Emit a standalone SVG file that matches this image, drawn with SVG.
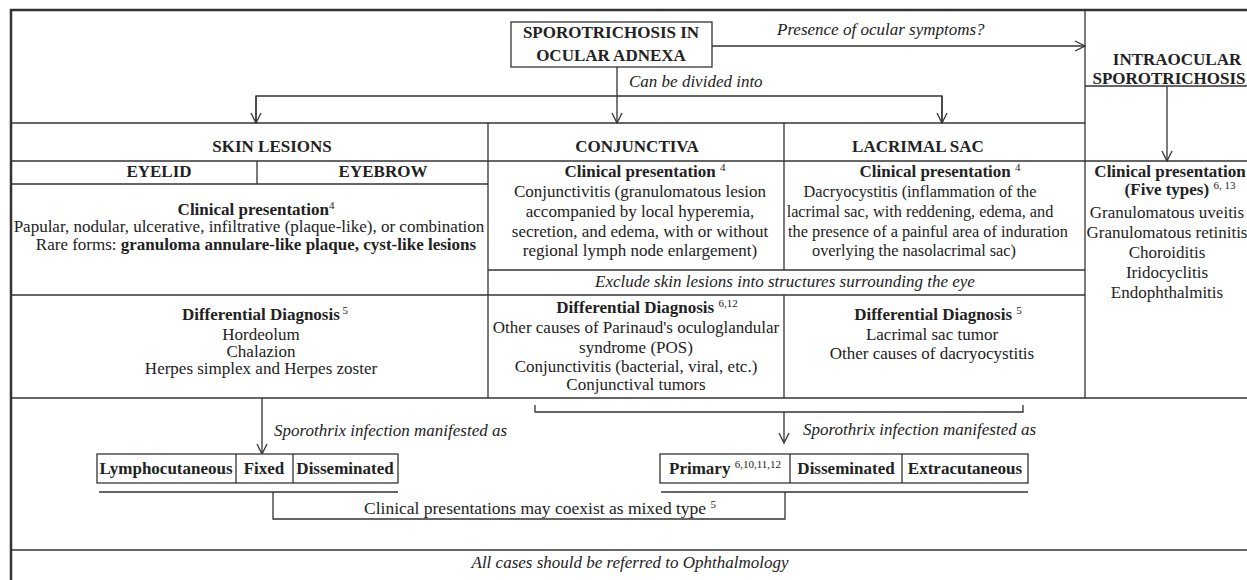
<svg xmlns="http://www.w3.org/2000/svg" width="1247" height="580" viewBox="0 0 1247 580">
<style>
text{font-family:"Liberation Serif","Times New Roman",serif;font-size:17px;fill:#222}
.b{font-weight:bold}
.i{font-style:italic}
.m{text-anchor:middle}
.sm{font-size:16.3px}
.sup{font-size:11px;font-weight:normal}
.ln{stroke:#333;stroke-width:1.3;fill:none}
.box{stroke:#333;stroke-width:1.3;fill:#fff}
.outer{stroke:#333;stroke-width:2.5;fill:#fff}
.arr{stroke:#333;stroke-width:1.3;fill:none;marker-end:url(#ah)}
</style>
<defs>
<marker id="ah" markerUnits="userSpaceOnUse" markerWidth="12" markerHeight="12" viewBox="-1 -6 12 12" refX="10" refY="0" orient="auto">
<path d="M0,-5 L10,0 L0,5" fill="none" stroke="#333" stroke-width="1.3"/>
</marker>
</defs>
<rect class="outer" x="11" y="10" width="1239" height="572"/>

<g id="grid">
<line class="ln" x1="11" y1="123" x2="1085" y2="123"/>
<line class="ln" x1="11" y1="161" x2="1250" y2="161"/>
<line class="ln" x1="11" y1="184" x2="488" y2="184"/>
<line class="ln" x1="257" y1="161" x2="257" y2="184"/>
<line class="ln" x1="488" y1="270" x2="1085" y2="270"/>
<line class="ln" x1="11" y1="295" x2="1085" y2="295"/>
<line class="ln" x1="11" y1="398" x2="1250" y2="398"/>
<line class="ln" x1="488" y1="123" x2="488" y2="398"/>
<line class="ln" x1="784" y1="123" x2="784" y2="270"/>
<line class="ln" x1="784" y1="295" x2="784" y2="398"/>
<line class="ln" x1="1085" y1="10" x2="1085" y2="398"/>
<line class="ln" x1="1085" y1="86" x2="1250" y2="86"/>
<line class="ln" x1="11" y1="550" x2="1250" y2="550"/>
</g>

<g id="connectors">
<line class="arr" x1="712" y1="46" x2="1085" y2="46"/>
<line class="arr" x1="617" y1="67" x2="617" y2="123"/>
<polyline class="ln" points="256,123 256,96 942,96 942,123"/>
<line class="arr" x1="256" y1="96" x2="256" y2="123"/>
<line class="arr" x1="942" y1="96" x2="942" y2="123"/>
<line class="arr" x1="1167" y1="86" x2="1167" y2="161"/>
<line class="arr" x1="262" y1="398" x2="262" y2="454"/>
<polyline class="ln" points="535,405 535,412 1023,412 1023,405"/>
<line class="arr" x1="784" y1="412" x2="784" y2="443"/>
<line class="ln" x1="99" y1="492" x2="398" y2="492"/>
<line class="ln" x1="661" y1="492" x2="1028" y2="492"/>
<polyline class="ln" points="273,492 273,519 785,519 785,492"/>
<text class="i" x="777" y="35">Presence of ocular symptoms?</text>
<text class="i" x="629" y="87">Can be divided into</text>
<text class="i" x="274" y="436">Sporothrix infection manifested as</text>
<text class="i" x="803" y="435">Sporothrix infection manifested as</text>
<text x="364" y="514" style="font-size:17.5px">Clinical presentations may coexist as mixed type <tspan class="sup" dy="-6">5</tspan></text>
</g>

<g id="root">
<rect class="box" x="511" y="22" width="201" height="45"/>
<text class="b m" x="611" y="38">SPOROTRICHOSIS IN</text>
<text class="b m" x="611" y="61">OCULAR ADNEXA</text>
</g>

<g id="intraocular">
<text class="b m" x="1177" y="65">INTRAOCULAR</text>
<text class="b m" x="1169" y="84">SPOROTRICHOSIS</text>
<text class="b m" x="1170" y="177">Clinical presentation</text>
<text class="b m" x="1180" y="195">(Five types) <tspan class="sup" dy="-6">6, 13</tspan></text>
<text class="m" x="1167" y="218">Granulomatous uveitis</text>
<text class="m" x="1167" y="238">Granulomatous retinitis</text>
<text class="m" x="1167" y="258">Choroiditis</text>
<text class="m" x="1167" y="278">Iridocyclitis</text>
<text class="m" x="1167" y="298">Endophthalmitis</text>
</g>

<g id="skin">
<text class="b m" x="272" y="152">SKIN LESIONS</text>
<text class="b m" x="159" y="177">EYELID</text>
<text class="b m" x="383" y="177">EYEBROW</text>
<text class="b m" x="256" y="215">Clinical presentation<tspan class="sup" dy="-6">4</tspan></text>
<text class="m" x="249" y="232">Papular, nodular, ulcerative, infiltrative (plaque-like), or combination</text>
<text class="m" x="256" y="250">Rare forms: <tspan class="b">granuloma annulare-like plaque, cyst-like lesions</tspan></text>
</g>

<g id="skin-dd">
<text class="b m" x="265" y="320">Differential Diagnosis<tspan class="sup" dy="-6"> 5</tspan></text>
<text class="m" x="261" y="340">Hordeolum</text>
<text class="m" x="261" y="357">Chalazion</text>
<text class="m" x="261" y="374">Herpes simplex and Herpes zoster</text>
</g>

<g id="conjunctiva">
<text class="b m" x="637" y="152">CONJUNCTIVA</text>
<text class="b m" x="645" y="177">Clinical presentation <tspan class="sup" dy="-6">4</tspan></text>
<text class="m" x="640" y="197">Conjunctivitis (granulomatous lesion</text>
<text class="m" x="640" y="217">accompanied by local hyperemia,</text>
<text class="m" x="640" y="237">secretion, and edema, with or without</text>
<text class="m" x="640" y="256">regional lymph node enlargement)</text>
</g>

<g id="exclude">
<text class="i m" x="785" y="287">Exclude skin lesions into structures surrounding the eye</text>
</g>

<g id="conj-dd">
<text class="b m" x="647" y="313">Differential Diagnosis <tspan class="sup" dy="-6">6,12</tspan></text>
<text class="m" x="636" y="333">Other causes of Parinaud's oculoglandular</text>
<text class="m" x="636" y="353">syndrome (POS)</text>
<text class="m" x="636" y="372">Conjunctivitis (bacterial, viral, etc.)</text>
<text class="m" x="636" y="390">Conjunctival tumors</text>
</g>

<g id="lacrimal">
<text class="b m" x="918" y="152">LACRIMAL SAC</text>
<text class="b m" x="940" y="177">Clinical presentation <tspan class="sup" dy="-6">4</tspan></text>
<text class="m sm" x="920" y="197">Dacryocystitis (inflammation of the</text>
<text class="m sm" x="920" y="217">lacrimal sac, with reddening, edema, and</text>
<text class="m sm" x="928" y="237">the presence of a painful area of induration</text>
<text class="m sm" x="914" y="256">overlying the nasolacrimal sac)</text>
</g>

<g id="lacrimal-dd">
<text class="b m" x="938" y="320">Differential Diagnosis <tspan class="sup" dy="-6">5</tspan></text>
<text class="m" x="932" y="340">Lacrimal sac tumor</text>
<text class="m" x="932" y="359">Other causes of dacryocystitis</text>
</g>

<g id="skin-types">
<rect class="box" x="97" y="454" width="301" height="29"/>
<line class="ln" x1="236" y1="454" x2="236" y2="483"/>
<line class="ln" x1="293" y1="454" x2="293" y2="483"/>
<text class="b m" x="166" y="474">Lymphocutaneous</text>
<text class="b m" x="264" y="474">Fixed</text>
<text class="b m" x="345" y="474">Disseminated</text>
</g>

<g id="conj-types">
<rect class="box" x="660" y="454" width="368" height="29"/>
<line class="ln" x1="790" y1="454" x2="790" y2="483"/>
<line class="ln" x1="902" y1="454" x2="902" y2="483"/>
<text class="b m" x="725" y="474">Primary <tspan class="sup" dy="-6">6,10,11,12</tspan></text>
<text class="b m" x="846" y="474">Disseminated</text>
<text class="b m" x="965" y="474">Extracutaneous</text>
</g>

<g id="footer">
<text class="i m" x="630" y="568">All cases should be referred to Ophthalmology</text>
</g>
</svg>
